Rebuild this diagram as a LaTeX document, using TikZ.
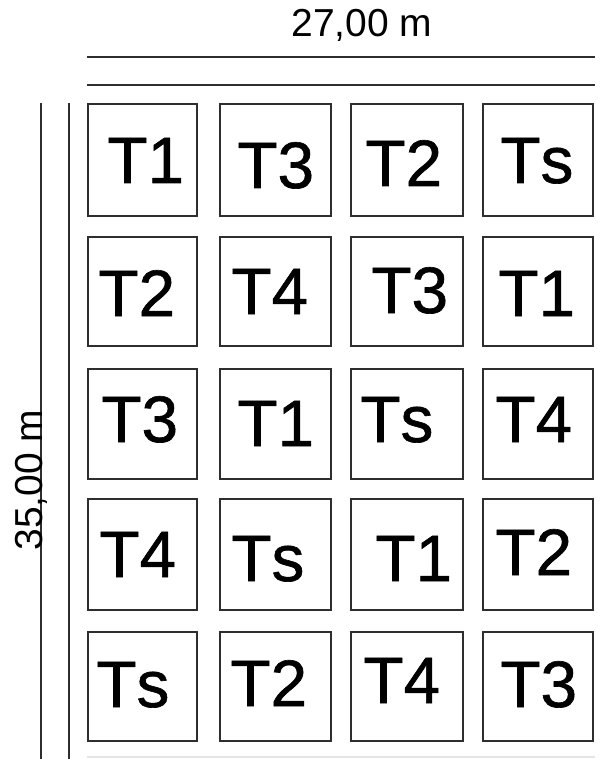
\documentclass[tikz,border=0pt]{standalone}
\usepackage{fontspec}
\setmainfont{Liberation Sans}
\newfontfamily\plotfont[FakeBold=1,Kerning=Off]{Liberation Sans}
\begin{document}
\begin{tikzpicture}[x=1pt,y=-1pt,
  plotbox/.style={draw=black!82, line width=2pt, rectangle, inner sep=0pt, outer sep=0pt, anchor=north west},
  lab/.style={inner sep=0pt, outer sep=0pt, anchor=base west, font=\plotfont\fontsize{65.6pt}{70pt}\selectfont},
  dimlab/.style={inner sep=0pt, outer sep=0pt, anchor=base, font=\fontsize{39pt}{44pt}\selectfont},
  dline/.style={draw=black!82, line width=2pt}]
\useasboundingbox (0,0) rectangle (600,759);
% plots
\foreach \x/\w [count=\c] in {88/109,220/111,351/112,483/110}{
  \foreach \y/\h [count=\r] in {104/112,237/109,369/110,499/111,632/109}{
    \node[plotbox, minimum width=\w pt, minimum height=\h pt] (b\r\c) at (\x,\y) {};
  }
}
% labels row 1
\node[lab] (l11) at (107.5,183) {T1};
\node[lab] (l12) at (237.5,188) {T3};
\node[lab] (l13) at (365.5,186) {T2};
\node[lab] (l14) at (500.5,183) {Ts};
% row 2
\node[lab] (l21) at (98.5,316) {T2};
\node[lab] (l22) at (231.5,314) {T4};
\node[lab] (l23) at (371.5,313) {T3};
\node[lab] (l24) at (498.5,316) {T1};
% row 3
\node[lab] (l31) at (101.5,442) {T3};
\node[lab] (l32) at (237.5,446) {T1};
\node[lab] (l33) at (360.5,442) {Ts};
\node[lab] (l34) at (495.5,442) {T4};
% row 4
\node[lab] (l41) at (99.5,577) {T4};
\node[lab] (l42) at (231.5,581) {Ts};
\node[lab] (l43) at (375.5,581) {T1};
\node[lab] (l44) at (495.5,575) {T2};
% row 5
\node[lab] (l51) at (96.5,707) {Ts};
\node[lab] (l52) at (230.5,706) {T2};
\node[lab] (l53) at (363.5,703) {T4};
\node[lab] (l54) at (500.5,707) {T3};
% dimension lines
\coordinate (h1a) at (87,57);  \coordinate (h1b) at (595,57);
\coordinate (h2a) at (87,85);  \coordinate (h2b) at (595,85);
\coordinate (v1a) at (41,103); \coordinate (v1b) at (41,759);
\coordinate (v2a) at (69,103); \coordinate (v2b) at (69,759);
\coordinate (fa) at (87,757);  \coordinate (fb) at (595,757);
\draw[dline] (h1a) -- (h1b);
\draw[dline] (h2a) -- (h2b);
\draw[dline] (v1a) -- (v1b);
\draw[dline] (v2a) -- (v2b);
\draw[draw=black!10, line width=1.2pt] (fa) -- (fb);
\node[dimlab] (wlab) at (362,37) {27,00 m};
\node[dimlab, rotate=90] (hlab) at (42,480) {35,00 m};
\end{tikzpicture}
\end{document}
